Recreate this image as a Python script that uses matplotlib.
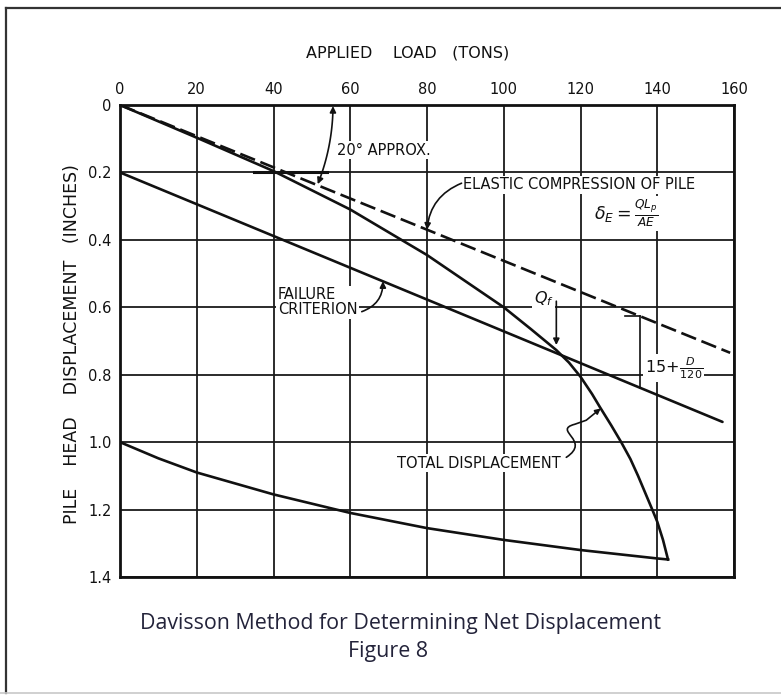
import numpy as np
import matplotlib.pyplot as plt
from matplotlib.lines import Line2D
from matplotlib.patches import FancyArrowPatch
from matplotlib.path import Path

# axis ticks
load_ticks = [0, 20, 40, 60, 80, 100, 120, 140, 160]
disp_ticks = [0, 0.2, 0.4, 0.6, 0.8, 1.0, 1.2, 1.4]
disp_labels = ['0', '0.2', '0.4', '0.6', '0.8', '1.0', '1.2', '1.4']

# load test curve (loading branch), tons / inches
total_load = [0, 20, 40, 60, 80, 100, 107, 113.7, 117, 120, 123, 125, 128, 130.6,
              133, 135, 138.7, 140, 141.5, 142.8]
total_disp = [0, 0.097, 0.196, 0.31, 0.445, 0.60, 0.664, 0.727, 0.764, 0.806, 0.857,
              0.895, 0.95, 1.0, 1.05, 1.1, 1.2, 1.236, 1.29, 1.348]

# unloading branch
rebound_load = [142.8, 140, 120, 100, 80, 60, 40, 20, 10, 0]
rebound_disp = [1.348, 1.345, 1.32, 1.29, 1.255, 1.21, 1.155, 1.09, 1.048, 1.0]

# elastic compression line and failure criterion (offset parallel)
elastic_load = [0, 159]
elastic_disp = [0, 0.735]
failure_load = [0, 157]
failure_disp = [0.2, 0.94]

qf_load = 113.7
dim_load = 135.4

plt.rcParams['font.family'] = 'DejaVu Sans'
plt.rcParams['mathtext.fontset'] = 'dejavusans'

W, H = 781, 696
fig = plt.figure(figsize=(W / 100, H / 100), dpi=100)
ax = fig.add_axes([120 / W, 1 - 577 / H, 614 / W, 472 / H])
ax.set_xlim(0, 160)
ax.set_ylim(1.4, 0)
ax.xaxis.tick_top()
ax.set_xticks(load_ticks)
ax.set_yticks(disp_ticks)
ax.set_yticklabels(disp_labels)
ax.tick_params(length=0, labelsize=10.5, pad=6, colors='#111')
ax.set_axisbelow(True)
ax.grid(True, color='#1a1a1a', lw=1.3)
for s in ax.spines.values():
    s.set_linewidth(2.0)
    s.set_color('#111')

ax.plot(elastic_load, elastic_disp, color='#111', lw=1.9, zorder=4, dashes=(6, 2.2))
ax.plot(failure_load, failure_disp, color='#111', lw=1.9, zorder=4, solid_capstyle='round')
ax.plot(total_load, total_disp, color='#111', lw=1.9, zorder=4, solid_joinstyle='round')
ax.plot(rebound_load, rebound_disp, color='#111', lw=1.9, zorder=4, solid_joinstyle='round')
ax.plot([35, 54], [0.2, 0.2], color='#111', lw=2.2, zorder=4)

bb = dict(facecolor='white', edgecolor='none', pad=1.0)
tk = dict(fontsize=10.5, color='#111', zorder=3, bbox=bb)
ak = dict(color='#111', lw=1.2, mutation_scale=9, shrinkA=0, shrinkB=0)

# 20 deg arc between top axis and elastic line
p0 = ax.transData.transform((0, 0))
p1 = ax.transData.transform((elastic_load[1], elastic_disp[1]))
ang = np.arctan2(p1[1] - p0[1], p1[0] - p0[0])
th = np.linspace(-0.005, ang + 0.005, 40)
arc_px = np.column_stack([p0[0] + 213 * np.cos(th), p0[1] + 213 * np.sin(th)])
arc = ax.transData.inverted().transform(arc_px)
ax.add_patch(FancyArrowPatch(path=Path(arc), arrowstyle='<|-|>', mutation_scale=9,
                             color='#111', lw=1.2, zorder=5))
ax.text(56.5, 0.134, '20° APPROX.', ha='left', va='center', **tk)

# elastic compression label
ax.text(89.3, 0.237, 'ELASTIC COMPRESSION OF PILE', ha='left', va='center', **tk)
ax.text(123.5, 0.322, r'$\delta_E = \frac{QL_p}{AE}$', ha='left', va='center',
        fontsize=12.5, color='#111', zorder=3, bbox=bb)
ax.annotate('', xy=(80, np.interp(80, elastic_load, elastic_disp)), xytext=(89.0, 0.232),
            arrowprops=dict(arrowstyle='-|>', connectionstyle='arc3,rad=0.3', **ak), zorder=5)

# failure criterion label
ax.text(41.1, 0.585, 'FAILURE\nCRITERION', ha='left', va='center', linespacing=1.0, **tk)
ax.annotate('', xy=(68.5, np.interp(68.5, failure_load, failure_disp)), xytext=(63.0, 0.613),
            arrowprops=dict(arrowstyle='-|>', connectionstyle='arc3,rad=0.35', **ak), zorder=5)

# Q_f marker
ax.text(107.8, 0.575, r'$Q_f$', ha='left', va='center', fontsize=11.5, color='#111',
        zorder=3, bbox=bb)
ax.annotate('', xy=(qf_load, 0.712), xytext=(qf_load, 0.582),
            arrowprops=dict(arrowstyle='-|>', **ak), zorder=5)

# offset dimension
d_top = np.interp(dim_load, elastic_load, elastic_disp)
d_bot = np.interp(dim_load, failure_load, failure_disp)
ax.plot([dim_load, dim_load], [d_top, d_bot], color='#111', lw=1.2, zorder=4)
ax.plot([dim_load - 3.8, dim_load], [d_top, d_top], color='#111', lw=1.2, zorder=4)
ax.text(136.7, 0.78, r'$15\!+\!\frac{D}{120}$', ha='left', va='center', fontsize=11.5,
        color='#111', zorder=3, bbox=bb)

# total displacement label with squiggle leader
ax.text(72.1, 1.062, 'TOTAL DISPLACEMENT', ha='left', va='center', **tk)
sq = [(116.3, 1.045), (123.0, 0.995), (112.5, 0.965), (118.5, 0.947), (121.5, 0.935),
      (np.interp(0.9, total_disp, total_load), 0.9)]
sq_codes = [Path.MOVETO, Path.CURVE4, Path.CURVE4, Path.CURVE4, Path.LINETO, Path.LINETO]
ax.add_patch(FancyArrowPatch(path=Path(sq, sq_codes), arrowstyle='-|>', mutation_scale=8,
                             color='#111', lw=1.2, zorder=5))

# axis titles
fig.text(408 / W, 1 - 53 / H, 'APPLIED    LOAD   (TONS)', ha='center', va='center',
         fontsize=11.5, color='#111')
fig.text(72 / W, 1 - 344 / H, 'PILE    HEAD    DISPLACEMENT   (INCHES)', ha='center',
         va='center', rotation=90, fontsize=12.5, color='#111')

# caption
cap_family = ['Open Sans', 'DejaVu Sans']
cap1 = fig.text(400 / W, 1 - 623 / H, 'Davisson Method for Determining Net Displacement',
                ha='center', va='center', fontsize=15, color='#23233a', family=cap_family,
                fontstretch='semi-condensed')
cap2 = fig.text(388 / W, 1 - 651 / H, 'Figure 8', ha='center', va='center', fontsize=15,
                color='#23233a', family=cap_family, fontstretch='semi-condensed')
r = fig.canvas.get_renderer()
wid = cap1.get_window_extent(r).width
fs = min(15 * 519 / wid, 15.5)
cap1.set_fontsize(fs)
cap2.set_fontsize(fs)

# outer frame
fig.add_artist(Line2D([6 / W, 6 / W], [1 - 8 / H, 1 - 693 / H], transform=fig.transFigure,
                      color='#333', lw=1.6))
fig.add_artist(Line2D([6 / W, 1], [1 - 8 / H, 1 - 8 / H], transform=fig.transFigure,
                      color='#333', lw=1.6))
fig.add_artist(Line2D([0, 1], [1 - 693 / H, 1 - 693 / H], transform=fig.transFigure,
                      color='#c8c8c8', lw=1.2))

fig.savefig('out.png', dpi=100)
